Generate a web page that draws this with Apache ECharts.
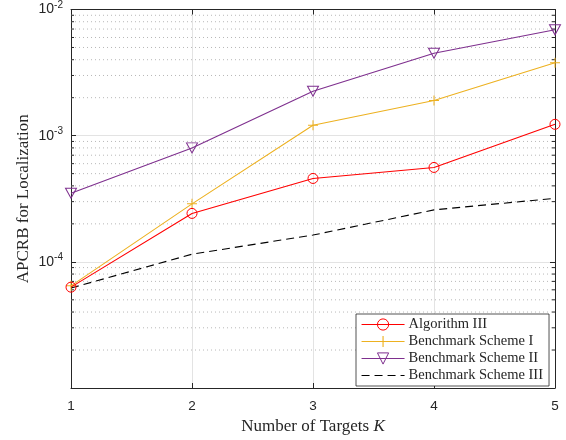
<!DOCTYPE html>
<html>
<head>
<meta charset="utf-8">
<script src="https://cdn.jsdelivr.net/npm/echarts@6/dist/echarts.min.js"></script>
<style>
  html, body { margin: 0; padding: 0; background: #ffffff; }
  #chart { width: 566px; height: 440px; }
</style>
</head>
<body>
<div id="chart"></div>
<script>
// Number of targets K
const targets = [1, 2, 3, 4, 5];

// APCRB values per scheme
const algorithmIII = [6.3e-5, 2.42e-4, 4.58e-4, 5.6e-4, 1.23e-3];
const benchmarkI   = [6.45e-5, 2.88e-4, 1.21e-3, 1.9e-3, 3.78e-3];
const benchmarkII  = [3.5e-4, 8.0e-4, 2.25e-3, 4.5e-3, 6.9e-3];
const benchmarkIII = [6.2e-5, 1.15e-4, 1.63e-4, 2.58e-4, 3.19e-4];

const seriesNames = ['Algorithm III', 'Benchmark Scheme I', 'Benchmark Scheme II', 'Benchmark Scheme III'];

// Log axis: decades shown and minor tick multipliers inside each decade
const yMin = 1e-5;
const yMax = 1e-2;
const minorDecades = [-5, -4, -3];
const minorMultipliers = [2, 3, 4, 5, 6, 7, 8, 9];

const minorValues = [];
minorDecades.forEach(function (e) {
  minorMultipliers.forEach(function (m) { minorValues.push([1, m * Math.pow(10, e)]); });
});

function pairs(ys) { return targets.map(function (x, i) { return [x, ys[i]]; }); }

const axisColor = '#262626';
const serif = '"Liberation Serif", "DejaVu Serif", serif';
const sans = '"Liberation Sans", Arial, sans-serif';

const plusPath = 'path://M4.5,0 L5.5,0 L5.5,4.5 L10,4.5 L10,5.5 L5.5,5.5 L5.5,10 L4.5,10 L4.5,5.5 L0,5.5 L0,4.5 L4.5,4.5 Z';
const triDownPath = 'path://M0,0 L10,0 L5,9 Z';

const chart = echarts.init(document.getElementById('chart'), null, { renderer: 'canvas' });

const option = {
  backgroundColor: '#ffffff',
  animation: false,
  grid: { left: 71, right: 11, top: 9.5, bottom: 48, containLabel: false },
  legend: {
    left: 356, top: 314,
    orient: 'vertical',
    data: [
      { name: seriesNames[0] },
      { name: seriesNames[1] },
      { name: seriesNames[2] },
      { name: seriesNames[3], itemStyle: { opacity: 0 } }
    ],
    backgroundColor: '#ffffff',
    borderColor: axisColor,
    borderWidth: 0.8,
    padding: [3, 6, 3, 5],
    itemGap: 2,
    itemWidth: 43,
    itemHeight: 14,
    lineStyle: { width: 1.1 },
    itemStyle: { borderWidth: 1 },
    textStyle: { fontFamily: serif, fontSize: 14.5, color: '#262626', padding: [0, 0, 0, -1] }
  },
  xAxis: [
    {
      type: 'value', min: 1, max: 5, interval: 1, position: 'bottom',
      name: 'Number of Targets {k|K}',
      nameLocation: 'middle', nameGap: 30,
      nameMoveOverlap: false,
      nameTextStyle: {
        fontFamily: serif, fontSize: 17, color: '#262626',
        rich: { k: { fontFamily: serif, fontStyle: 'italic', fontSize: 17, color: '#262626' } }
      },
      axisLine: { show: true, lineStyle: { color: axisColor, width: 1 } },
      axisTick: { show: true, inside: true, length: 5, lineStyle: { color: axisColor } },
      axisLabel: { fontFamily: sans, fontSize: 13.5, color: '#262626', margin: 11 },
      splitLine: { show: true, lineStyle: { color: '#e3e3e3', width: 1 } }
    },
    {
      type: 'value', min: 1, max: 5, interval: 1, position: 'top',
      axisLine: { show: true, lineStyle: { color: axisColor, width: 1 } },
      axisTick: { show: true, inside: true, length: 5, lineStyle: { color: axisColor } },
      axisLabel: { show: false },
      splitLine: { show: false }
    }
  ],
  yAxis: [
    {
      type: 'log', logBase: 10, min: yMin, max: yMax, position: 'left',
      name: 'APCRB for Localization',
      nameLocation: 'middle', nameGap: 39,
      nameMoveOverlap: false,
      nameTextStyle: { fontFamily: serif, fontSize: 17, color: '#262626' },
      axisLine: { show: true, lineStyle: { color: axisColor, width: 1 } },
      axisTick: { show: true, inside: true, length: 5, lineStyle: { color: axisColor } },
      axisLabel: {
        margin: 8,
        fontFamily: sans, fontSize: 14, color: '#262626',
        formatter: function (v) {
          const e = Math.round(Math.log10(v));
          if (e === -5) return '';
          return '10{s|' + e + '}';
        },
        rich: { s: { fontFamily: sans, fontSize: 10, color: '#262626', verticalAlign: 'top', padding: [0, 0, 9, 0] } }
      },
      splitLine: { show: true, lineStyle: { color: '#e3e3e3', width: 1 } }
    },
    {
      type: 'log', logBase: 10, min: yMin, max: yMax, position: 'right',
      axisLine: { show: true, lineStyle: { color: axisColor, width: 1 } },
      axisTick: { show: true, inside: true, length: 5, lineStyle: { color: axisColor } },
      axisLabel: { show: false },
      splitLine: { show: false }
    }
  ],
  series: [
    {
      // minor log gridlines and inward minor ticks on both vertical edges
      type: 'custom',
      silent: true,
      z: 1,
      xAxisIndex: 0, yAxisIndex: 0,
      data: minorValues,
      renderItem: function (params, api) {
        const v = api.value(1);
        const a = api.coord([1, v]);
        const b = api.coord([5, v]);
        return {
          type: 'group',
          children: [
            { type: 'line', shape: { x1: a[0], y1: a[1], x2: b[0], y2: b[1] },
              style: { stroke: '#b8b8b8', lineWidth: 1, lineDash: [1, 3] } },
            { type: 'line', shape: { x1: a[0], y1: a[1], x2: a[0] + 3, y2: a[1] },
              style: { stroke: axisColor, lineWidth: 1 } },
            { type: 'line', shape: { x1: b[0] - 3, y1: b[1], x2: b[0], y2: b[1] },
              style: { stroke: axisColor, lineWidth: 1 } }
          ]
        };
      }
    },
    {
      name: seriesNames[0], type: 'line', z: 5,
      data: pairs(algorithmIII),
      symbol: 'circle', symbolSize: 10,
      lineStyle: { color: '#ff0000', width: 1.1 },
      itemStyle: { color: 'rgba(0,0,0,0)', borderColor: '#ff0000', borderWidth: 1 }
    },
    {
      name: seriesNames[1], type: 'line', z: 4,
      data: pairs(benchmarkI),
      symbol: plusPath, symbolSize: 10,
      lineStyle: { color: '#EDB120', width: 1.1 },
      itemStyle: { color: '#EDB120', borderWidth: 0 }
    },
    {
      name: seriesNames[2], type: 'line', z: 4,
      data: pairs(benchmarkII),
      symbol: triDownPath, symbolSize: [11, 10],
      lineStyle: { color: '#7E2F8E', width: 1.1 },
      itemStyle: { color: 'rgba(0,0,0,0)', borderColor: '#7E2F8E', borderWidth: 1 }
    },
    {
      name: seriesNames[3], type: 'line', z: 3,
      data: pairs(benchmarkIII),
      symbol: 'none',
      lineStyle: { color: '#000000', width: 1.1, type: [8, 5] },
      itemStyle: { color: '#000000' }
    }
  ]
};

chart.setOption(option);
</script>
</body>
</html>
